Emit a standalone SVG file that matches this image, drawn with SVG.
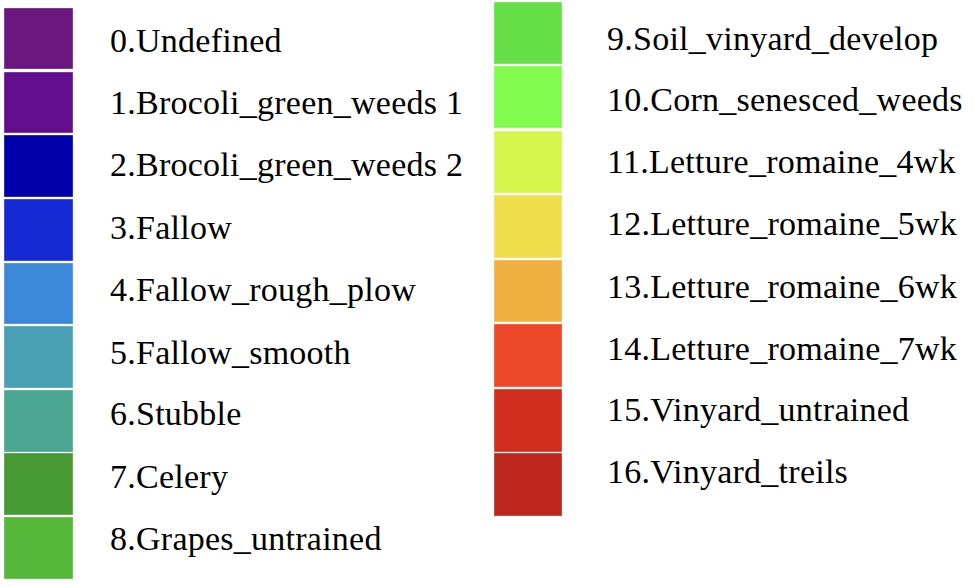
<svg xmlns="http://www.w3.org/2000/svg" width="974" height="586" viewBox="0 0 974 586">
<style>
.sw{stroke:#ffffff;stroke-opacity:0.35;stroke-width:1}
.lb{font-family:"Liberation Serif","Times New Roman",Tinos,Times,serif;font-size:34px;letter-spacing:0.25px;fill:#000}
</style>
<rect width="974" height="586" fill="#ffffff"/>
<g id="item0"><rect class="sw" x="4" y="8" width="69" height="61" fill="#6a167e"/><text class="lb" x="110" y="52">0.Undefined</text></g>
<g id="item1"><rect class="sw" x="4" y="72" width="69" height="61" fill="#630e8d"/><text class="lb" x="110" y="114">1.Brocoli_green_weeds 1</text></g>
<g id="item2"><rect class="sw" x="4" y="135" width="69" height="62" fill="#0000aa"/><text class="lb" x="110" y="176">2.Brocoli_green_weeds 2</text></g>
<g id="item3"><rect class="sw" x="4" y="199" width="69" height="62" fill="#1429d3"/><text class="lb" x="110" y="239">3.Fallow</text></g>
<g id="item4"><rect class="sw" x="4" y="263" width="69" height="61" fill="#3b87d8"/><text class="lb" x="110" y="301">4.Fallow_rough_plow</text></g>
<g id="item5"><rect class="sw" x="4" y="326" width="69" height="62" fill="#49a0b4"/><text class="lb" x="110" y="364">5.Fallow_smooth</text></g>
<g id="item6"><rect class="sw" x="4" y="390" width="69" height="62" fill="#4aa591"/><text class="lb" x="110" y="425">6.Stubble</text></g>
<g id="item7"><rect class="sw" x="4" y="453" width="69" height="62" fill="#479a34"/><text class="lb" x="110" y="488">7.Celery</text></g>
<g id="item8"><rect class="sw" x="4" y="517" width="69" height="62" fill="#55b83a"/><text class="lb" x="110" y="550">8.Grapes_untrained</text></g>
<g id="item9"><rect class="sw" x="494" y="2" width="68" height="62" fill="#66de45"/><text class="lb" x="607" y="50">9.Soil_vinyard_develop</text></g>
<g id="item10"><rect class="sw" x="494" y="66" width="68" height="62" fill="#80fb4e"/><text class="lb" x="607" y="111">10.Corn_senesced_weeds</text></g>
<g id="item11"><rect class="sw" x="494" y="131" width="68" height="62" fill="#d8f54e"/><text class="lb" x="607" y="173">11.Letture_romaine_4wk</text></g>
<g id="item12"><rect class="sw" x="494" y="195" width="68" height="63" fill="#f0de4c"/><text class="lb" x="607" y="235">12.Letture_romaine_5wk</text></g>
<g id="item13"><rect class="sw" x="494" y="260" width="68" height="62" fill="#f2b040"/><text class="lb" x="607" y="298">13.Letture_romaine_6wk</text></g>
<g id="item14"><rect class="sw" x="494" y="324" width="68" height="63" fill="#ec4729"/><text class="lb" x="607" y="360">14.Letture_romaine_7wk</text></g>
<g id="item15"><rect class="sw" x="494" y="389" width="68" height="63" fill="#d22e1f"/><text class="lb" x="607" y="421">15.Vinyard_untrained</text></g>
<g id="item16"><rect class="sw" x="494" y="453" width="68" height="63" fill="#bc261c"/><text class="lb" x="607" y="483">16.Vinyard_treils</text></g>
<g id="connectors"/>
</svg>
